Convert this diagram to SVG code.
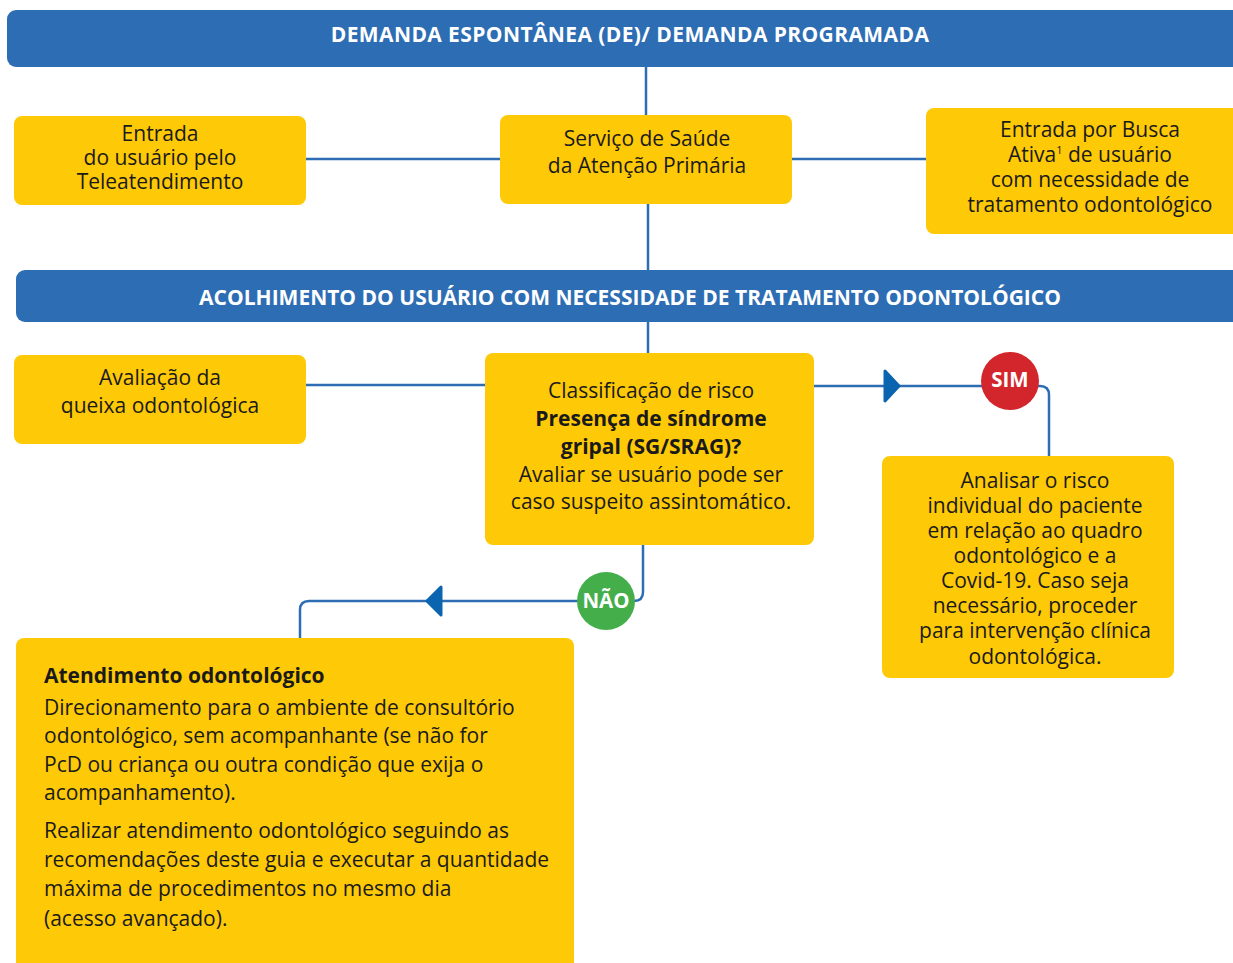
<svg xmlns="http://www.w3.org/2000/svg" width="1233" height="963" viewBox="0 0 1233 963">
<style>
.banner{fill:#2d6db3}
.box{fill:#fec907}
.bt{font-family:"Open Sans","Noto Sans",sans-serif;font-size:21px;font-weight:bold;fill:#ffffff;text-anchor:middle}
.t{font-family:"Open Sans","Noto Sans",sans-serif;font-size:21px;fill:#1a1a1a;text-anchor:middle}
.tl{font-family:"Open Sans","Noto Sans",sans-serif;font-size:21px;fill:#1a1a1a}
.b{font-weight:bold}
.ln{fill:none;stroke:#2d6db3;stroke-width:2.5}
.ah{fill:#0b64b0;stroke:#0b64b0;stroke-width:3;stroke-linejoin:round}
.ct{font-family:"Open Sans","Noto Sans",sans-serif;font-size:20.5px;font-weight:bold;fill:#ffffff;text-anchor:middle}
</style>
<rect width="1233" height="963" fill="#ffffff"/>
<g id="connectors">
<line class="ln" x1="646" y1="67" x2="646" y2="115"/>
<line class="ln" x1="306" y1="159" x2="500" y2="159"/>
<line class="ln" x1="792" y1="159" x2="926" y2="159"/>
<line class="ln" x1="648" y1="204" x2="648" y2="270"/>
<line class="ln" x1="648" y1="322" x2="648" y2="353"/>
<line class="ln" x1="306" y1="385" x2="485" y2="385"/>
<path class="ln" d="M814 386 H1040 Q1049 386 1049 395 V456"/>
<path class="ah" d="M885 371 L899 386 L885 401 Z"/>
<path class="ln" d="M643 545 V592 Q643 601 634 601 H309 Q300 601 300 610 V638"/>
<path class="ah" d="M441 587 L427 601 L441 615 Z"/>
</g>
<g id="banner-demanda">
<rect class="banner" x="7" y="10" width="1240" height="57" rx="9"/>
<text class="bt" x="630" y="42" letter-spacing="0.4">DEMANDA ESPONTÂNEA (DE)/ DEMANDA PROGRAMADA</text>
</g>
<g id="node-teleatendimento">
<rect class="box" x="14" y="116" width="292" height="89" rx="8"/>
<text class="t"><tspan x="160" y="141">Entrada</tspan><tspan x="160" y="165">do usuário pelo</tspan><tspan x="160" y="189">Teleatendimento</tspan></text>
</g>
<g id="node-servico">
<rect class="box" x="500" y="115" width="292" height="89" rx="8"/>
<text class="t"><tspan x="647" y="146">Serviço de Saúde</tspan><tspan x="647" y="173">da Atenção Primária</tspan></text>
</g>
<g id="node-busca-ativa">
<rect class="box" x="926" y="108" width="320" height="126" rx="8"/>
<text class="t"><tspan x="1090" y="137">Entrada por Busca</tspan><tspan x="1090" y="162">Ativa</tspan><tspan font-size="11" dy="-8">1</tspan><tspan dy="8"> de usuário</tspan><tspan x="1090" y="187">com necessidade de</tspan><tspan x="1090" y="212">tratamento odontológico</tspan></text>
</g>
<g id="banner-acolhimento">
<rect class="banner" x="16" y="270" width="1230" height="52" rx="9"/>
<text class="bt" x="630" y="305">ACOLHIMENTO DO USUÁRIO COM NECESSIDADE DE TRATAMENTO ODONTOLÓGICO</text>
</g>
<g id="node-avaliacao">
<rect class="box" x="14" y="355" width="292" height="89" rx="8"/>
<text class="t"><tspan x="160" y="385">Avaliação da</tspan><tspan x="160" y="413">queixa odontológica</tspan></text>
</g>
<g id="node-classificacao">
<rect class="box" x="485" y="353" width="329" height="192" rx="8"/>
<text class="t"><tspan x="651" y="398">Classificação de risco</tspan><tspan class="b" x="651" y="426">Presença de síndrome</tspan><tspan class="b" x="651" y="454">gripal (SG/SRAG)?</tspan><tspan x="651" y="482">Avaliar se usuário pode ser</tspan><tspan x="651" y="509">caso suspeito assintomático.</tspan></text>
</g>
<g id="node-sim">
<circle cx="1010" cy="381" r="29" fill="#d3262c"/>
<text class="ct" x="1010" y="387">SIM</text>
</g>
<g id="node-nao">
<circle cx="606" cy="601" r="29" fill="#43ae4a"/>
<text class="ct" x="606" y="608">NÃO</text>
</g>
<g id="node-analisar">
<rect class="box" x="882" y="456" width="292" height="222" rx="8"/>
<text class="t"><tspan x="1035" y="488">Analisar o risco</tspan><tspan x="1035" y="513">individual do paciente</tspan><tspan x="1035" y="538">em relação ao quadro</tspan><tspan x="1035" y="563">odontológico e a</tspan><tspan x="1035" y="588">Covid-19. Caso seja</tspan><tspan x="1035" y="613">necessário, proceder</tspan><tspan x="1035" y="638">para intervenção clínica</tspan><tspan x="1035" y="664">odontológica.</tspan></text>
</g>
<g id="node-atendimento">
<rect class="box" x="16" y="638" width="558" height="340" rx="8"/>
<text class="tl b" x="44" y="683">Atendimento odontológico</text>
<text class="tl"><tspan x="44" y="715">Direcionamento para o ambiente de consultório</tspan><tspan x="44" y="743">odontológico, sem acompanhante (se não for</tspan><tspan x="44" y="772">PcD ou criança ou outra condição que exija o</tspan><tspan x="44" y="800">acompanhamento).</tspan></text>
<text class="tl"><tspan x="44" y="838">Realizar atendimento odontológico seguindo as</tspan><tspan x="44" y="867">recomendações deste guia e executar a quantidade</tspan><tspan x="44" y="896">máxima de procedimentos no mesmo dia</tspan><tspan x="44" y="926">(acesso avançado).</tspan></text>
</g>
</svg>
